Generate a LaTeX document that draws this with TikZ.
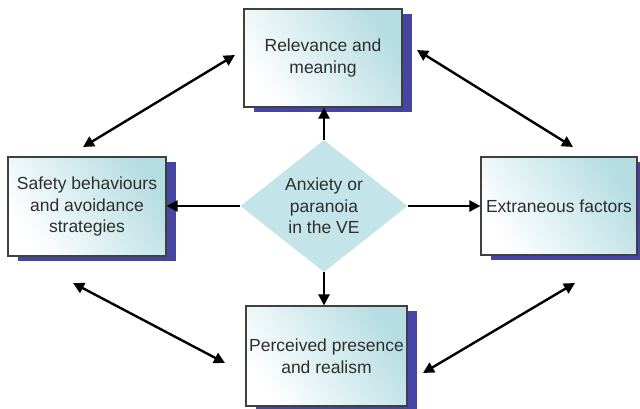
\documentclass[tikz,border=0pt]{standalone}
\usepackage{fontspec}
\setmainfont{Liberation Sans}
\usetikzlibrary{shapes.geometric,arrows.meta,shadows}
\definecolor{boxcyan}{HTML}{B5DDE2}
\definecolor{shadowblue}{HTML}{4545A5}
\definecolor{diafill}{HTML}{C3E4E8}
\definecolor{txt}{HTML}{2E2E2E}
\definecolor{edge}{HTML}{404040}
\tikzset{
  boxnode/.style={draw=edge, line width=1.2pt, shading=axis, top color=boxcyan, bottom color=white,
    shading angle=-55, text=txt, align=center, inner sep=1pt,
    general shadow={fill=shadowblue, shadow xshift=10pt, shadow yshift=-5pt},
    font=\fontsize{17.5}{21.5}\selectfont},
  dianode/.style={diamond, fill=diafill, draw=none, inner sep=0pt, minimum width=167pt, minimum height=132pt,
    text=txt, align=center, font=\fontsize{17.5}{21.5}\selectfont, aspect=1.27},
  arr/.style={line width=2.4pt, -{Triangle[length=11pt,width=11pt]}},
  darr/.style={line width=2.4pt, {Triangle[length=11pt,width=11pt]}-{Triangle[length=11pt,width=11pt]}}
}
\begin{document}
\begin{tikzpicture}[x=1pt,y=-1pt]
\useasboundingbox (0,0) rectangle (640,408);
\clip (0,0) rectangle (640,408);
\fill[white] (0,0) rectangle (640,408);
\node[boxnode, minimum width=158pt, minimum height=98pt] (top) at (323,58) {Relevance and\\meaning};
\node[boxnode, minimum width=158pt, minimum height=99pt] (left) at (87,206.5) {Safety behaviours\\and avoidance\\strategies};
\node[boxnode, minimum width=156pt, minimum height=98pt] (right) at (559,206) {Extraneous factors};
\node[boxnode, minimum width=161pt, minimum height=100pt] (bottom) at (326.5,356) {Perceived presence\\and realism};
\node[dianode] (dia) at (324,206) {Anxiety or\\paranoia\\in the VE};
\draw[arr] (dia.north) -- (top.south -| dia.north);
\draw[arr] (dia.south) -- (bottom.north -| dia.south);
\draw[arr] (dia.west) -- (left.east |- dia.west);
\draw[arr] (dia.east) -- (right.west |- dia.east);
\coordinate (tla) at (235,55);
\coordinate (tlb) at (83,147);
\coordinate (tra) at (417,50);
\coordinate (trb) at (573,147);
\coordinate (bla) at (73,283);
\coordinate (blb) at (225,363);
\coordinate (bra) at (423,373);
\coordinate (brb) at (575,283);
\draw[darr] (tla) -- (tlb);
\draw[darr] (tra) -- (trb);
\draw[darr] (bla) -- (blb);
\draw[darr] (bra) -- (brb);
\end{tikzpicture}
\end{document}
